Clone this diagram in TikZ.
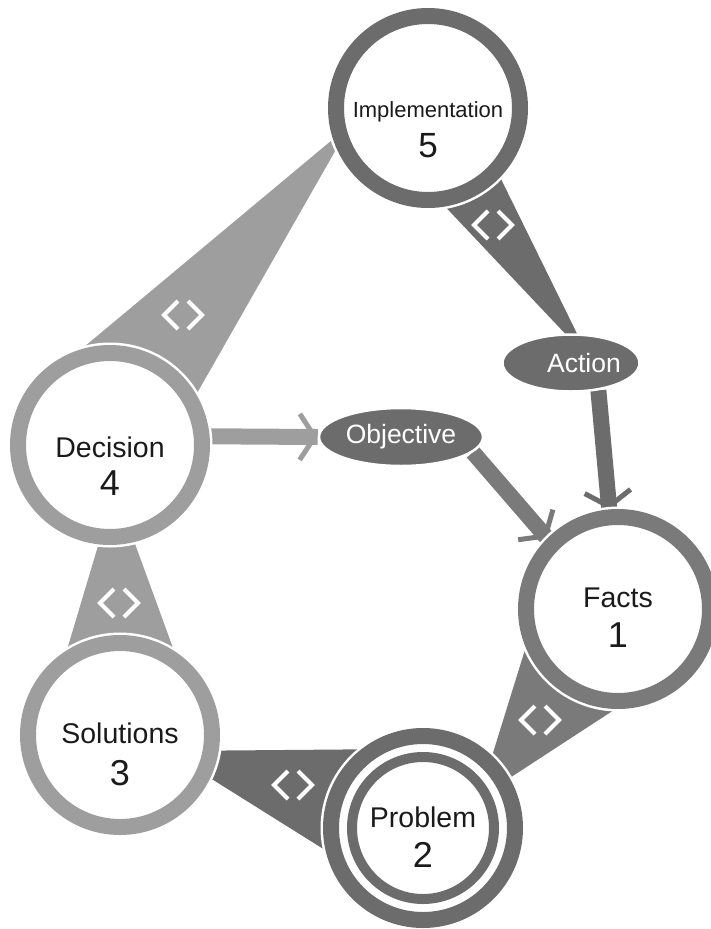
\documentclass[tikz,border=0pt]{standalone}
\usepackage{fontspec}
\setmainfont{Liberation Sans}
\usetikzlibrary{shapes.geometric,arrows.meta,backgrounds,positioning}
\definecolor{lightgr}{RGB}{158,158,158}
\definecolor{midgr}{RGB}{122,122,122}
\definecolor{darkgr}{RGB}{108,108,108}
\definecolor{ink}{RGB}{26,26,26}
\begin{document}
\begin{tikzpicture}[x=1pt,y=-1pt,
	stage/.style={circle,minimum size=184pt,inner sep=0pt,line width=16pt,fill=white,preaction={draw=white,line width=21pt}},
	goal/.style={ellipse,fill=darkgr,draw=white,line width=2.5pt,inner sep=0pt},
	goaltext/.style={text=white,font=\fontsize{26.5}{28}\selectfont},
	stagetext/.style={anchor=base,text=ink,font=\fontsize{28.5}{30}\selectfont},
	stagenum/.style={anchor=base,text=ink,font=\fontsize{36}{38}\selectfont},
	flow/.style={line width=16pt,postaction={draw,line width=5pt,-{Straight Barb[length=15pt,width=46pt]}}},
	brackets/.pic={\draw[white,line width=4pt,line cap=butt] (-5,-14) -- (-19,0) -- (-5,14) (5,-14) -- (19,0) -- (5,14);}]
	\useasboundingbox (0,0) rectangle (710,929);
	% the five stages
	\node[stage,draw=darkgr] (impl) at (428,108) {};
	\node[stage,draw=lightgr] (dec) at (110,445) {};
	\node[stage,draw=lightgr] (sol) at (120,735) {};
	\node[stage,draw=darkgr] (prob) at (423,828) {};
	\node[circle,draw=darkgr,line width=10pt,minimum size=142pt,inner sep=0pt] (probin) at (prob) {};
	\node[stage,draw=midgr] (facts) at (618,609) {};
	\node[stagetext,font=\fontsize{22}{24}\selectfont] (impltext) at ([yshift=-9pt]impl.center) {Implementation};
	\node[stagenum,font=\fontsize{35}{37}\selectfont] (implnum) at ([yshift=-49pt]impl.center) {5};
	\node[stagetext] (dectext) at ([yshift=-12pt]dec.center) {Decision};
	\node[stagenum] (decnum) at ([yshift=-50pt]dec.center) {4};
	\node[stagetext] (soltext) at ([yshift=-8pt]sol.center) {Solutions};
	\node[stagenum] (solnum) at ([yshift=-50pt]sol.center) {3};
	\node[stagetext] (probtext) at ([yshift=1pt]prob.center) {Problem};
	\node[stagenum] (probnum) at ([yshift=-39pt]prob.center) {2};
	\node[stagetext] (factstext) at ([yshift=2pt]facts.center) {Facts};
	\node[stagenum] (factsnum) at ([yshift=-38pt]facts.center) {1};
	% action and objective
	\node[goal,minimum width=137pt,minimum height=57pt] (act) at (571,363) {};
	\node[goaltext] (acttext) at ([xshift=13pt]act.center) {Action};
	\node[goal,minimum width=164pt,minimum height=58pt] (obj) at (401,437) {};
	\node[goaltext] (objtext) at (obj.center) {Objective};
	\begin{pgfonlayer}{background}
		% links between the stages
		\fill[lightgr] ([shift={(-78,17)}]impl.center) -- ([shift={(-50,-78)}]dec.center) -- ([shift={(66,-15)}]dec.center) -- cycle;
		\fill[darkgr] ([shift={(-8,72)}]impl.center) -- ([shift={(42,8)}]impl.center) -- ([shift={(19,-3)}]act.center) -- cycle;
		\fill[lightgr] ([shift={(5,44)}]dec.center) -- ([shift={(-68,-35)}]sol.center) -- ([shift={(72,-35)}]sol.center) -- cycle;
		\fill[darkgr] ([shift={(47,16)}]sol.center) -- ([shift={(-23,-79)}]prob.center) -- ([shift={(-23,69)}]prob.center) -- cycle;
		\fill[midgr] ([shift={(-90,31)}]facts.center) -- ([shift={(42,71)}]facts.center) -- ([shift={(56,-30)}]prob.center) -- cycle;
		% arrows
		\draw[flow,lightgr] (dec.5) -- (obj.west);
		\draw[flow,midgr] (obj.-12) -- (facts.135);
		\draw[flow,darkgr] (act.-45) -- (facts.95);
	\end{pgfonlayer}
	\pic at (183,315) {brackets};
	\pic at (493,225) {brackets};
	\pic at (119,603) {brackets};
	\pic at (293,785) {brackets};
	\pic at (540,720) {brackets};
\end{tikzpicture}
\end{document}
